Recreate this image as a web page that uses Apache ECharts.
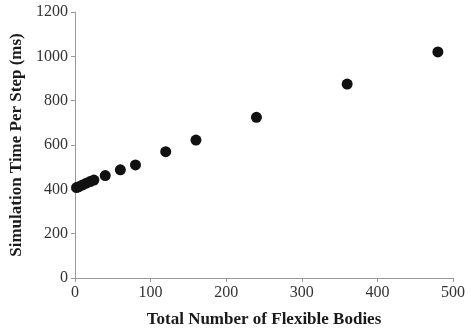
<!DOCTYPE html>
<html>
<head>
<meta charset="utf-8">
<script src="https://cdn.jsdelivr.net/npm/echarts@6/dist/echarts.min.js"></script>
<style>html,body{margin:0;padding:0;background:#fff}#c{width:471px;height:333px}</style>
</head>
<body>
<div id="c"></div>
<script>
const bodies = [2, 5, 10, 15, 20, 25, 40, 60, 80, 120, 160, 240, 360, 480];
const timeMs = [408, 412, 420, 428, 435, 442, 462, 488, 510, 570, 622, 725, 875, 1020];
const xTitle = 'Total Number of Flexible Bodies';
const yTitle = 'Simulation Time Per Step (ms)';

const chart = echarts.init(document.getElementById('c'), null, {renderer: 'canvas'});
const font = "'Liberation Serif', 'DejaVu Serif', serif";
chart.setOption({
  animation: false,
  backgroundColor: '#fff',
  grid: {left: 73, right: 18, top: 12, bottom: 55},
  xAxis: {
    type: 'value', min: 0, max: 500, interval: 100,
    name: xTitle, nameLocation: 'middle', nameGap: 33,
    nameTextStyle: {fontFamily: font, fontWeight: 'bold', fontSize: 17, color: '#1a1a1a'},
    axisLine: {lineStyle: {color: '#999'}},
    axisTick: {show: true, length: 4, lineStyle: {color: '#999'}},
    axisLabel: {fontFamily: font, fontSize: 16, color: '#333', margin: 7, formatter: v => String(v)},
    splitLine: {show: false}
  },
  yAxis: {
    type: 'value', min: 0, max: 1200, interval: 200,
    name: yTitle, nameLocation: 'middle', nameGap: 50,
    nameTextStyle: {fontFamily: font, fontWeight: 'bold', fontSize: 17, color: '#1a1a1a'},
    axisLine: {show: true, lineStyle: {color: '#999'}},
    axisTick: {show: true, length: 4, lineStyle: {color: '#999'}},
    axisLabel: {fontFamily: font, fontSize: 16, color: '#333', margin: 7, formatter: v => String(v)},
    splitLine: {show: false}
  },
  series: [{
    type: 'scatter',
    data: bodies.map((b, i) => [b, timeMs[i]]),
    symbol: 'circle', symbolSize: 11,
    itemStyle: {color: '#111', opacity: 1}
  }]
});
</script>
</body>
</html>
